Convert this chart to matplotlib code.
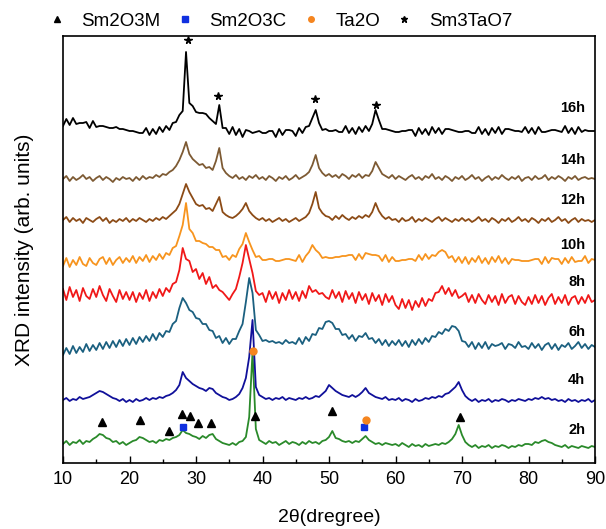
import numpy as np
import matplotlib
matplotlib.use("Agg")
import matplotlib.pyplot as plt
from matplotlib.lines import Line2D
from matplotlib.ticker import MultipleLocator

plt.rcParams['font.family'] = ['Liberation Sans', 'DejaVu Sans']

# ---------------- data ----------------
two_theta = np.linspace(10, 90, 161)   # 0.5 degree sampling

labels = ['2h', '4h', '6h', '8h', '10h', '12h', '14h', '16h']

i_2h = [3, 6, 2, 5, 4, 7, 3, 6, 5, 8, 10, 13, 12, 9, 8, 5, 6, 3, 5, 2,
        4, 6, 7, 10, 9, 7, 5, 6, 4, 7, 6, 8, 7, 9, 10, 12, 17, 14, 13, 11,
        10, 8, 11, 9, 12, 13, 8, 6, 4, 3, 2, 4, 2, 5, 6, 10, 30, 95, 18, 7,
        5, 3, 6, 4, 5, 2, 4, 6, 3, 5, 4, 2, 5, 3, 6, 4, 5, 3, 6, 7,
        10, 16, 9, 8, 6, 5, 6, 4, 6, 5, 8, 11, 7, 5, 3, 4, 2, 4, 3, 2,
        3, 1, 4, 2, 0, 3, 1, 2, 0, 3, 1, 2, 3, 2, 4, 3, 5, 8, 13, 22,
        12, 5, 2, 0, 2, -1, 1, 0, 2, -1, 1, 0, 2, 1, -1, 1, 0, 2, 1, 3,
        3, 2, 5, 4, 6, 7, 5, 4, 2, 1, 0, 2, -1, 1, 0, -1, 1, 0, -1, 1,
        0]
i_4h = [2, 4, 1, 3, 2, 5, 3, 4, 5, 7, 9, 11, 10, 8, 6, 4, 3, 1, 3, 0,
        2, 0, 3, 1, 2, 4, 2, 4, 3, 5, 4, 6, 7, 9, 12, 17, 30, 24, 21, 18,
        16, 14, 13, 11, 14, 13, 9, 7, 5, 4, 2, 3, 5, 8, 14, 24, 45, 82, 15, 7,
        5, 3, 4, 2, 4, 3, 5, 2, 4, 3, 2, 4, 3, 5, 3, 4, 6, 5, 8, 11,
        17, 14, 11, 9, 7, 6, 5, 7, 5, 7, 10, 14, 9, 7, 5, 4, 3, 5, 2, 3,
        2, 4, 1, 3, 2, 0, 3, 1, 2, 4, 3, 5, 4, 6, 5, 8, 9, 12, 15, 20,
        12, 6, 3, 1, 3, 0, 2, 1, 3, 0, 2, 1, 3, 2, 0, 2, 1, 3, 2, 1,
        3, 2, 4, 3, 5, 3, 4, 2, 3, 1, 2, 0, 3, 1, 2, 0, 2, 1, 3, 0,
        2]
i_6h = [-7, 0, -6, 2, -5, 1, -4, 4, -3, 3, -2, 5, -1, 6, 0, 7, 1, 8, 2, 9,
        3, 10, 4, 11, 6, 12, 7, 14, 8, 15, 11, 17, 16, 24, 27, 40, 50, 45, 38, 36,
        30, 29, 24, 24, 18, 17, 10, 12, 5, 10, 4, 9, 9, 17, 24, 46, 70, 55, 18, 13,
        7, 8, 6, 7, 5, 6, 4, 8, 5, 6, 4, 10, 4, 11, 7, 14, 13, 20, 19, 26,
        27, 25, 19, 19, 13, 14, 9, 13, 7, 12, 11, 15, 9, 10, 5, 9, 3, 8, 2, 7,
        3, 8, 2, 7, 1, 8, 3, 9, 4, 10, 6, 12, 11, 16, 14, 19, 17, 22, 21, 17,
        7, 6, 1, 6, -1, 5, 0, 6, -1, 4, 2, 3, 5, -1, 4, 3, 0, 6, 1, 2,
        -1, 5, 0, 4, -2, 3, 5, -1, 4, -2, 3, 1, 5, -1, 2, 6, 0, 4, -1, 3,
        1]
i_8h = [14, 3, 16, 6, 13, 2, 15, 7, 4, 14, 6, 17, 8, 2, 14, 7, 1, 13, 4, 11,
        3, 11, 1, 10, 4, 13, 2, 11, 5, 14, 7, 15, 11, 19, 21, 33, 55, 44, 42, 31,
        34, 24, 30, 19, 26, 15, 18, 13, 11, 7, 3, 9, 14, 26, 40, 58, 44, 30, 12, 8,
        10, 1, 12, 4, 11, 0, 10, 3, 13, 4, 11, 2, 12, 5, 17, 11, 13, 9, 10, 6,
        4, 13, 5, 11, 1, 12, 4, 10, 0, 11, 3, 9, -1, 10, 2, 8, -2, 9, 1, 7,
        -2, -6, 4, -5, 3, -7, 2, -4, 5, -3, 4, 2, 10, 11, 17, 9, 15, 7, 13, 5,
        7, 10, 1, 8, 0, 9, 3, -1, 8, 1, 7, -2, 9, 0, 6, 8, -1, 7, 1, -2,
        6, -1, 8, 0, 7, -2, 5, 9, -1, 6, 0, 8, -2, 5, 7, -1, 6, 0, 8, 1,
        3]
i_10h = [-3, 5, -4, 3, -2, 6, -1, -3, 5, 0, -2, 4, 6, -1, 5, -2, 3, 6, 0, 5,
         1, 7, 0, 6, 2, 8, 1, 7, 3, 9, 4, 10, 8, 15, 17, 27, 38, 60, 34, 30,
         22, 22, 20, 19, 16, 16, 13, 13, 6, 7, 3, 8, 6, 14, 19, 30, 21, 13, 6, 7,
         3, 3, 4, 4, 2, 2, 3, 4, 4, 3, 2, 8, 1, 7, 11, 18, 13, 10, 5, 6,
         5, 5, 6, 6, 7, 7, 8, 8, 3, 9, 4, 10, 9, 8, 8, 7, 2, 8, 1, 6,
         2, 2, 3, 3, 4, 4, 2, 8, 3, 9, 4, 8, 7, 11, 13, 11, 5, 7, 1, 6,
         0, 6, -1, 5, 1, 7, 0, 5, -1, 6, 1, 7, 0, 5, -1, 4, 3, 3, 2, 2,
         2, 3, 4, 4, -1, 6, 0, 5, 4, 4, -1, 5, 0, 6, 1, 2, 2, 7, 0, 4,
         3]
i_12h = [2, 5, 0, 4, 1, 3, -1, 4, 2, 0, 3, 5, 1, 4, -1, 2, 0, 3, 1, 4,
         0, 3, 1, 4, 2, 0, 3, 1, 4, 2, 5, 3, 6, 9, 12, 18, 28, 38, 30, 24,
         18, 16, 17, 13, 14, 11, 18, 25, 10, 7, 5, 4, 6, 9, 13, 19, 11, 7, 4, 2,
         4, 1, 3, 0, 2, 4, 1, 3, 0, 2, 4, 1, 3, 5, 9, 18, 30, 14, 9, 6,
         5, 2, 6, 3, 7, 4, 2, 5, 3, 6, 4, 7, 5, 10, 19, 11, 6, 3, 5, 2,
         3, 0, 4, 1, 2, 5, 0, 3, 1, 4, 2, 0, 3, 5, 1, 4, 2, 0, 3, 1,
         4, 1, 3, 0, 2, 5, 1, 3, 0, 4, 2, -1, 3, 1, 4, 0, 2, 5, 1, 3,
         0, 4, 2, -1, 3, 1, 4, 0, 2, 5, 1, 3, -1, 2, 4, 0, 3, 1, 2, 0,
         2]
i_14h = [1, 4, -1, 3, 0, 2, 5, 1, 3, -1, 2, 4, 0, 3, 1, -2, 2, 0, 3, 1,
         2, -1, 3, 0, 4, 1, 3, 2, 5, 3, 6, 5, 8, 10, 14, 20, 28, 38, 26, 21,
         18, 15, 16, 12, 13, 10, 19, 32, 12, 7, 4, 2, 5, 1, 3, 0, 4, 2, 5, 1,
         3, 0, 4, 2, -1, 3, 1, 4, 0, 2, 5, 1, 3, 5, 8, 15, 25, 12, 7, 4,
         6, 3, 5, 2, 6, 4, 1, 5, 3, 6, 2, 5, 4, 9, 18, 12, 6, 4, 2, 5,
         1, 4, 2, 0, 3, 5, 1, 3, 0, 4, 2, 6, 1, 3, 0, 4, 2, -1, 3, 1,
         4, 0, 2, 5, 1, 3, -1, 2, 4, 0, 3, 1, 5, 2, 0, 3, 1, 4, -1, 2,
         3, 0, 4, 1, 2, 5, 0, 3, 1, 4, 2, -1, 3, 1, 4, 0, 2, 3, 1, 2,
         1]
i_16h = [7, 14, 8, 15, 9, 10, 10, 11, 5, 12, 6, 7, 7, 6, 5, 5, 6, 4, 4, 3,
         2, 2, 1, 0, 0, 5, -2, 4, -1, 6, 1, 7, 3, 10, 11, 18, 22, 81, 30, 27,
         21, 20, 20, 19, 15, 12, 9, 28, 5, 5, -1, 6, -2, 4, -4, 3, 2, 0, 1, 2,
         0, 0, 2, 2, -4, 4, -2, 3, 3, 2, -3, 5, 0, 6, 7, 15, 23, 10, 3, 4,
         2, 2, 3, 1, 1, 7, 0, 5, -1, 6, 1, 7, 2, 9, 23, 13, 4, 4, 3, 2,
         1, 1, 2, 2, 3, 3, -3, 5, -1, 4, -2, 6, 0, 5, -1, 4, 4, 3, 2, 1,
         1, 2, 2, 0, 0, 6, -1, 4, -2, 5, 0, 6, -1, 4, 4, 3, 2, 2, 1, 6,
         0, 5, -1, 6, 1, 1, 2, 3, 3, 2, 1, 7, 0, 5, -1, 6, 1, 3, 2, 2,
         2]

series = [i_2h, i_4h, i_6h, i_8h, i_10h, i_12h, i_14h, i_16h]

# phase reference markers (peak positions, degrees) and their heights above the trace
sm2o3m_pos = [15.9, 21.6, 26.0, 27.9, 29.1, 30.3, 32.3, 38.9, 50.5, 69.7]
sm2o3m_lvl = [25, 27, 16, 33, 31, 24, 24, 31, 36, 30]
sm2o3c_pos = [28.1, 55.2]
sm2o3c_lvl = [20, 20]
ta2o_pos = [38.5, 55.5]
ta2o_lvl = [96, 27]
sm3tao7_pos = [28.8, 33.3, 47.95, 57.0]
sm3tao7_lvl = [93, 37, 34, 28]

# ---------------- layout / style ----------------
offsets = [16, 61, 115, 160, 200, 241, 283, 330]
label_y = [33, 83, 131, 181, 218, 263, 303, 355]
colors = ['#2a8a2a', '#10109a', '#1b6080', '#f01818', '#f7941e', '#8c4b16', '#7d5a33', '#000000']

fig = plt.figure(figsize=(6.06, 5.29), dpi=100)
ax = fig.add_axes([63/606, 1 - 463/529, (595-63)/606, (463-36)/529])

for vals, off, col in zip(series, offsets, colors):
    v = np.asarray(vals, dtype=float)
    assert len(v) == len(two_theta)
    ax.plot(two_theta, v + off, color=col, lw=1.3)

for lab, ly in zip(labels, label_y):
    ax.text(88.5, ly, lab, ha='right', va='center', fontsize=10.5, fontweight='bold')

ms = dict(linestyle='none', clip_on=False)
ax.plot(sm2o3m_pos, np.array(sm2o3m_lvl) + offsets[0], marker='^', color='black', markersize=6, **ms)
ax.plot(sm2o3c_pos, np.array(sm2o3c_lvl) + offsets[0], marker='s', color='#1030e0', markersize=4.5, **ms)
ax.plot(ta2o_pos, np.array(ta2o_lvl) + offsets[0], marker='o', color='#f5851f', markersize=5, **ms)
ax.plot(sm3tao7_pos, np.array(sm3tao7_lvl) + offsets[7], marker='*', color='black', markersize=5.5, **ms)

ax.set_xlim(10, 90)
ax.set_ylim(0, 427)
ax.xaxis.set_major_locator(MultipleLocator(10))
ax.xaxis.set_minor_locator(MultipleLocator(5))
ax.tick_params(axis='x', which='major', direction='in', length=5, width=1.0, labelsize=13, pad=6)
ax.tick_params(axis='x', which='minor', direction='in', length=3, width=1.0)
ax.set_yticks([])
for sp in ax.spines.values():
    sp.set_linewidth(1.2)

ax.set_xlabel('2θ(dregree)', fontsize=14, labelpad=15)
ax.set_ylabel('XRD intensity (arb. units)', fontsize=15, labelpad=21)

handles = [
    Line2D([], [], linestyle='none', marker='^', color='black', markersize=5),
    Line2D([], [], linestyle='none', marker='s', color='#1030e0', markersize=4),
    Line2D([], [], linestyle='none', marker='o', color='#f5851f', markersize=4),
    Line2D([], [], linestyle='none', marker='*', color='black', markersize=5),
]
fig.legend(handles, ['Sm2O3M', 'Sm2O3C', 'Ta2O', 'Sm3TaO7'], loc='center',
           bbox_to_anchor=(280/606, 1 - 21/529), ncol=4, frameon=False,
           fontsize=13.5, handlelength=1.0, handletextpad=0.8, columnspacing=0.8,
           borderpad=0.2)

fig.savefig('out.png', dpi=100)
